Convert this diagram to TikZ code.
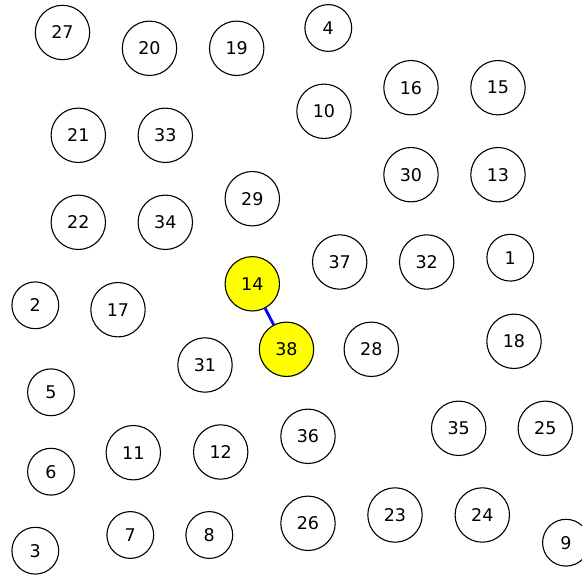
\documentclass[tikz,border=0pt]{standalone}
\usepackage{fontspec}
\setmainfont{DejaVu Sans}
\usetikzlibrary{positioning}
\definecolor{hitfill}{RGB}{255,255,0}
\definecolor{linkblue}{RGB}{0,0,255}
\tikzset{
  vertex/.style={circle,draw=black,line width=1.1pt,fill=white,inner sep=0pt,
                 minimum size=54.4pt,font=\fontsize{17.5}{20}\selectfont},
  single/.style={vertex,minimum size=46.8pt},
  marked/.style={vertex,fill=hitfill},
  link/.style={draw=linkblue,line width=2.8pt},
}
\begin{document}
\begin{tikzpicture}[x=1pt,y=-1pt]
  \path[use as bounding box] (0,0) rectangle (582,575);

  % linked pair
  \node[marked] (N14) at (252.3,283.8) {14};
  \node[marked] (N38) at (286.5,349.3) {38};
  \draw[link] (N14) -- (N38);

  % upper left block
  \node[vertex] (N27) at (62.5,32.5) {27};
  \node[vertex] (N20) at (149.5,48.3) {20};
  \node[vertex] (N19) at (236.7,48.3) {19};
  \node[vertex] (N21) at (78.3,135.3) {21};
  \node[vertex] (N33) at (165.3,135.3) {33};
  \node[vertex] (N22) at (78.3,222.3) {22};
  \node[vertex] (N34) at (165.3,222.3) {34};
  \node[vertex] (N29) at (252.3,198.7) {29};

  % upper right block
  \node[single] (N4) at (328.3,28.0) {4};
  \node[vertex] (N10) at (324.0,111.3) {10};
  \node[vertex] (N16) at (411.0,87.7) {16};
  \node[vertex] (N15) at (498.0,87.7) {15};
  \node[vertex] (N30) at (411.0,174.7) {30};
  \node[vertex] (N13) at (498.0,174.7) {13};
  \node[vertex] (N37) at (339.7,262.0) {37};
  \node[vertex] (N32) at (426.7,262.0) {32};
  \node[single] (N1) at (510.3,257.7) {1};

  % lower left block
  \node[single] (N2) at (35.3,305.3) {2};
  \node[vertex] (N17) at (118.0,309.7) {17};
  \node[vertex] (N31) at (205.0,365.0) {31};
  \node[single] (N5) at (51.0,392.3) {5};
  \node[single] (N6) at (51.0,471.7) {6};
  \node[vertex] (N11) at (133.3,452.7) {11};
  \node[vertex] (N12) at (220.7,452.0) {12};
  \node[single] (N7) at (130.3,535.0) {7};
  \node[single] (N8) at (209.3,535.0) {8};
  \node[single] (N3) at (35.3,550.7) {3};

  % lower right block
  \node[vertex] (N28) at (371.3,349.3) {28};
  \node[vertex] (N18) at (514.0,341.3) {18};
  \node[vertex] (N36) at (308.0,436.3) {36};
  \node[vertex] (N35) at (458.7,428.3) {35};
  \node[vertex] (N25) at (545.3,428.3) {25};
  \node[vertex] (N26) at (308.0,523.3) {26};
  \node[vertex] (N23) at (395.0,515.0) {23};
  \node[vertex] (N24) at (482.3,515.0) {24};
  \node[single] (N9) at (566.0,542.7) {9};
\end{tikzpicture}
\end{document}
